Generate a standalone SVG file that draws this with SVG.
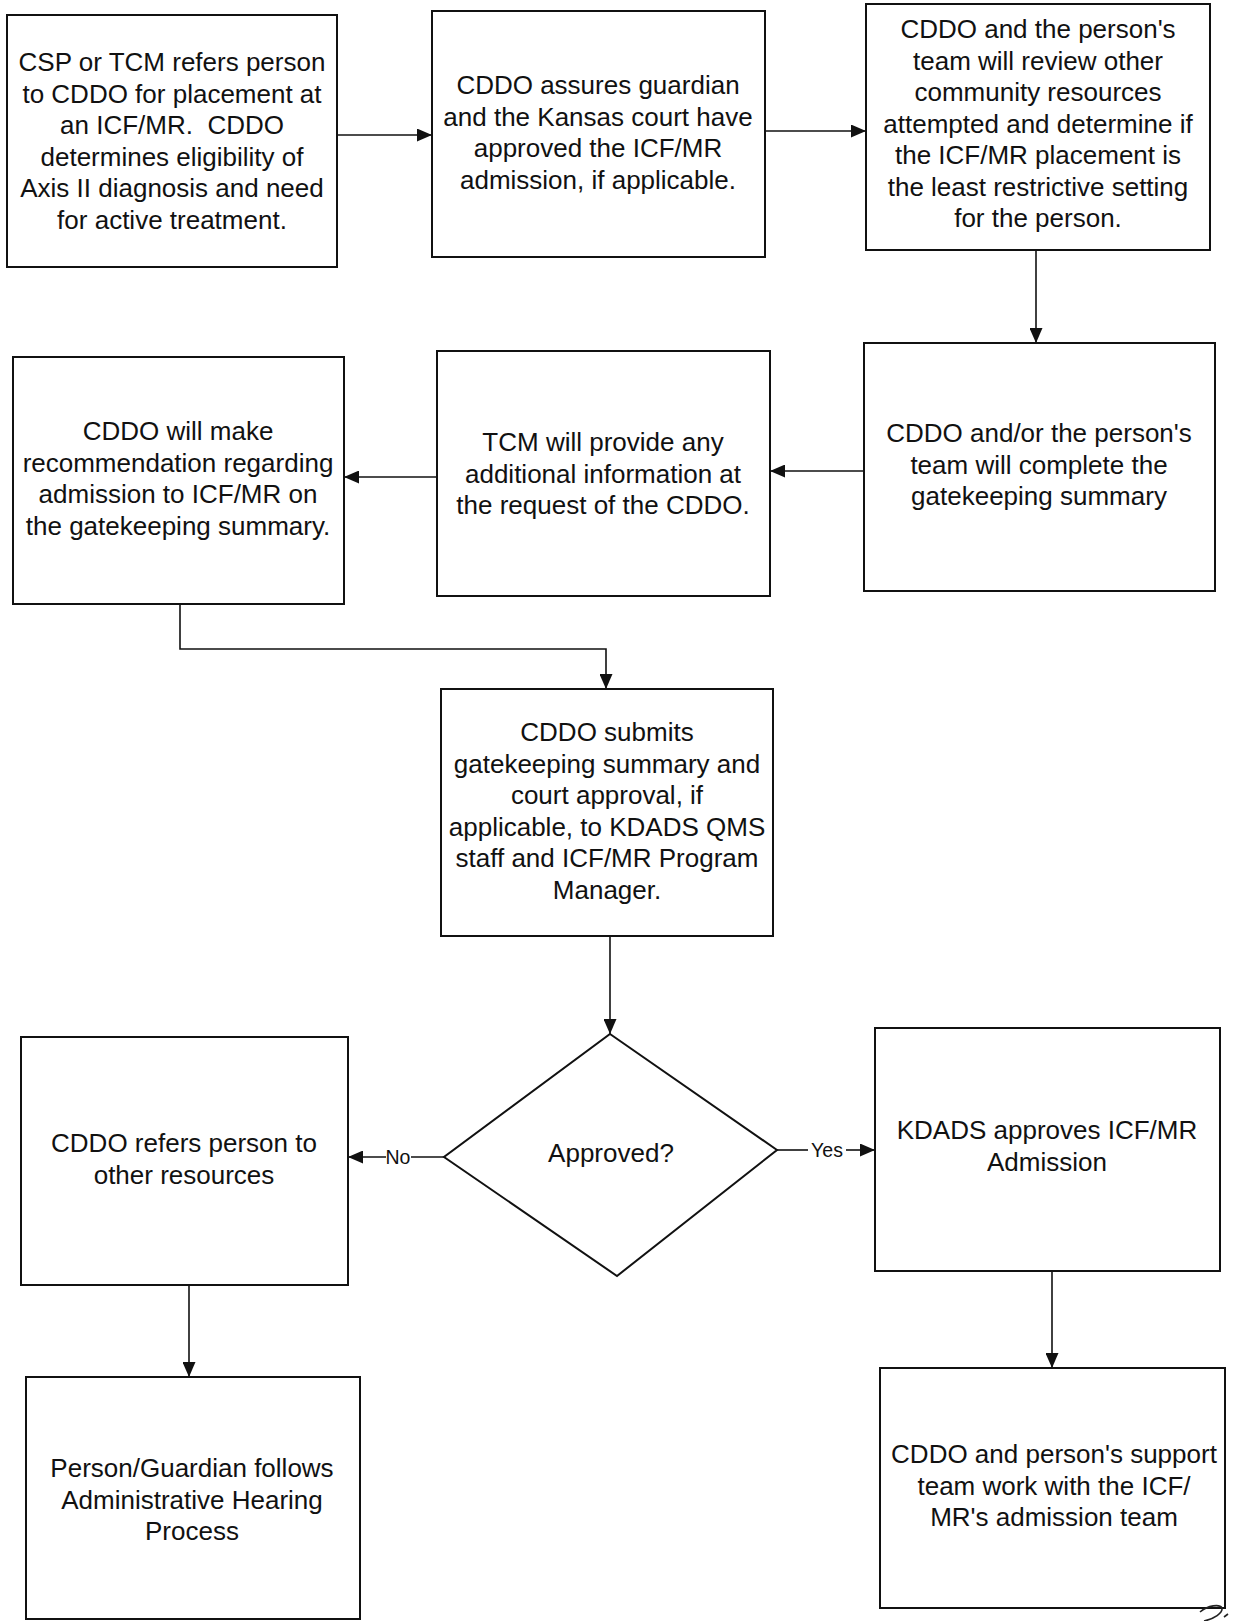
<svg xmlns="http://www.w3.org/2000/svg" width="1234" height="1621" viewBox="0 0 1234 1621">
  <style>
    .box { fill: #ffffff; stroke: #111111; stroke-width: 2; }
    .lbl { font-family: "Liberation Sans", Arial, sans-serif; font-size: 26px; fill: #111111; text-anchor: middle; }
    .tag { font-family: "Liberation Sans", Arial, sans-serif; font-size: 19.5px; fill: #111111; text-anchor: middle; }
    .wire { fill: none; stroke: #111111; stroke-width: 1.6; }
  </style>
  <defs>
    <marker id="arrow" viewBox="0 0 15 13" refX="15" refY="6.5" markerWidth="15" markerHeight="13" markerUnits="userSpaceOnUse" orient="auto">
      <path d="M0,0 L15,6.5 L0,13 z" fill="#111111"/>
    </marker>
  </defs>
  <rect width="1234" height="1621" fill="#ffffff"/>

  <!-- connectors -->
  <g id="connectors">
    <path class="wire" d="M337,135 L432,135" marker-end="url(#arrow)"/>
    <path class="wire" d="M765,131 L866,131" marker-end="url(#arrow)"/>
    <path class="wire" d="M1036,250 L1036,343" marker-end="url(#arrow)"/>
    <path class="wire" d="M864,471 L770,471" marker-end="url(#arrow)"/>
    <path class="wire" d="M437,477 L344,477" marker-end="url(#arrow)"/>
    <path class="wire" d="M180,604 L180,649 L606,649 L606,689" marker-end="url(#arrow)"/>
    <path class="wire" d="M610,936 L610,1034" marker-end="url(#arrow)"/>
    <path class="wire" d="M444,1157 L411,1157"/>
    <path class="wire" d="M386,1157 L348,1157" marker-end="url(#arrow)"/>
    <path class="wire" d="M777,1150 L808,1150"/>
    <path class="wire" d="M846,1150 L875,1150" marker-end="url(#arrow)"/>
    <path class="wire" d="M189,1285 L189,1377" marker-end="url(#arrow)"/>
    <path class="wire" d="M1052,1271 L1052,1368" marker-end="url(#arrow)"/>
    <text class="tag" x="398" y="1164">No</text>
    <text class="tag" x="827" y="1157">Yes</text>
  </g>

  <g id="refer-to-cddo">
    <rect class="box" x="7" y="15" width="330" height="252"/>
    <text class="lbl" xml:space="preserve"><tspan x="172" y="71">CSP or TCM refers person</tspan><tspan x="172" y="102.5">to CDDO for placement at</tspan><tspan x="172" y="134">an ICF/MR.  CDDO</tspan><tspan x="172" y="165.5">determines eligibility of</tspan><tspan x="172" y="197">Axis II diagnosis and need</tspan><tspan x="172" y="228.5">for active treatment.</tspan></text>
  </g>

  <g id="guardian-court">
    <rect class="box" x="432" y="11" width="333" height="246"/>
    <text class="lbl"><tspan x="598" y="94">CDDO assures guardian</tspan><tspan x="598" y="125.5">and the Kansas court have</tspan><tspan x="598" y="157">approved the ICF/MR</tspan><tspan x="598" y="188.5">admission, if applicable.</tspan></text>
  </g>

  <g id="review-resources">
    <rect class="box" x="866" y="4" width="344" height="246"/>
    <text class="lbl"><tspan x="1038" y="38">CDDO and the person's</tspan><tspan x="1038" y="69.5">team will review other</tspan><tspan x="1038" y="101">community resources</tspan><tspan x="1038" y="132.5">attempted and determine if</tspan><tspan x="1038" y="164">the ICF/MR placement is</tspan><tspan x="1038" y="195.5">the least restrictive setting</tspan><tspan x="1038" y="227">for the person.</tspan></text>
  </g>

  <g id="complete-summary">
    <rect class="box" x="864" y="343" width="351" height="248"/>
    <text class="lbl"><tspan x="1039" y="442">CDDO and/or the person's</tspan><tspan x="1039" y="473.5">team will complete the</tspan><tspan x="1039" y="505">gatekeeping summary</tspan></text>
  </g>

  <g id="tcm-info">
    <rect class="box" x="437" y="351" width="333" height="245"/>
    <text class="lbl"><tspan x="603" y="451">TCM will provide any</tspan><tspan x="603" y="482.5">additional information at</tspan><tspan x="603" y="514">the request of the CDDO.</tspan></text>
  </g>

  <g id="recommendation">
    <rect class="box" x="13" y="357" width="331" height="247"/>
    <text class="lbl"><tspan x="178" y="440">CDDO will make</tspan><tspan x="178" y="471.5">recommendation regarding</tspan><tspan x="178" y="503">admission to ICF/MR on</tspan><tspan x="178" y="534.5">the gatekeeping summary.</tspan></text>
  </g>

  <g id="submit-summary">
    <rect class="box" x="441" y="689" width="332" height="247"/>
    <text class="lbl"><tspan x="607" y="741">CDDO submits</tspan><tspan x="607" y="772.5">gatekeeping summary and</tspan><tspan x="607" y="804">court approval, if</tspan><tspan x="607" y="835.5">applicable, to KDADS QMS</tspan><tspan x="607" y="867">staff and ICF/MR Program</tspan><tspan x="607" y="898.5">Manager.</tspan></text>
  </g>

  <g id="approved-decision">
    <polygon class="box" points="610,1034 777,1150 617,1276 444,1157"/>
    <text class="lbl" x="611" y="1162">Approved?</text>
  </g>

  <g id="other-resources">
    <rect class="box" x="21" y="1037" width="327" height="248"/>
    <text class="lbl"><tspan x="184" y="1152">CDDO refers person to</tspan><tspan x="184" y="1183.5">other resources</tspan></text>
  </g>

  <g id="kdads-approves">
    <rect class="box" x="875" y="1028" width="345" height="243"/>
    <text class="lbl"><tspan x="1047" y="1139">KDADS approves ICF/MR</tspan><tspan x="1047" y="1170.5">Admission</tspan></text>
  </g>

  <g id="hearing-process">
    <rect class="box" x="26" y="1377" width="334" height="242"/>
    <text class="lbl"><tspan x="192" y="1477">Person/Guardian follows</tspan><tspan x="192" y="1508.5">Administrative Hearing</tspan><tspan x="192" y="1540">Process</tspan></text>
  </g>

  <g id="admission-team">
    <rect class="box" x="880" y="1368" width="345" height="240"/>
    <text class="lbl"><tspan x="1054" y="1463">CDDO and person's support</tspan><tspan x="1054" y="1494.5">team work with the ICF/</tspan><tspan x="1054" y="1526">MR's admission team</tspan></text>
  </g>

  <!-- handwritten initial at the page corner -->
  <path d="M1200,1612 C1208,1605 1220,1604 1222,1608 C1223,1613 1214,1619 1204,1621 M1224,1617 L1228,1614" fill="none" stroke="#222222" stroke-width="1.6"/>
</svg>
